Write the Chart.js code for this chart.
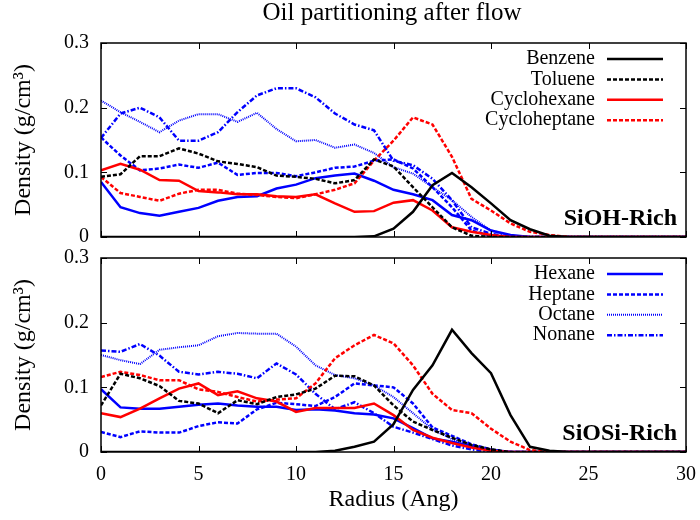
<!DOCTYPE html>
<html>
<head>
<meta charset="utf-8">
<script src="https://cdn.jsdelivr.net/npm/chart.js@4.4.1/dist/chart.umd.min.js"></script>
<style>
  body { margin: 0; background: #fff; }
  #top { position: absolute; left: 0; top: 0; }
  #bottom { position: absolute; left: 0; top: 234px; }
</style>
</head>
<body>
<canvas id="top" width="700" height="261"></canvas>
<canvas id="bottom" width="700" height="286"></canvas>
<script>
const radius = [0,1,2,3,4,5,6,7,8,9,10,11,12,13,14,15,16,17,18,19,20,21,22,23,24,25,26,27,28,29,30];
const seriesNames = ["Benzene", "Toluene", "Cyclohexane", "Cycloheptane", "Hexane", "Heptane", "Octane", "Nonane"];
const yTickLabels = ["0", "0.1", "0.2", "0.3"];
const xTickLabels = ["0", "5", "10", "15", "20", "25", "30"];

// SiOH-Rich panel
const benzeneTop = [0,0,0,0,0,0,0,0,0,0,0,0,0,0,0.001,0.013,0.039,0.08,0.099,0.077,0.052,0.026,0.012,0.002,0,0,0,0,0,0,0];
const tolueneTop = [0.093,0.097,0.125,0.125,0.137,0.129,0.117,0.113,0.108,0.095,0.093,0.09,0.083,0.088,0.12,0.109,0.077,0.046,0.015,0.002,0,0,0,0,0,0,0,0,0,0,0];
const cyclohexaneTop = [0.103,0.113,0.104,0.088,0.087,0.071,0.069,0.066,0.066,0.063,0.062,0.066,0.052,0.039,0.04,0.053,0.057,0.041,0.015,0.008,0.003,0,0,0,0,0,0,0,0,0,0];
const cycloheptaneTop = [0.093,0.068,0.062,0.056,0.067,0.073,0.073,0.067,0.065,0.062,0.06,0.066,0.073,0.083,0.118,0.149,0.185,0.174,0.124,0.059,0.041,0.021,0.008,0.003,0,0,0,0,0,0,0];
const hexaneTop = [0.085,0.046,0.037,0.033,0.039,0.045,0.056,0.062,0.063,0.075,0.081,0.091,0.095,0.098,0.087,0.073,0.066,0.057,0.034,0.026,0.01,0.003,0,0,0,0,0,0,0,0,0];
const heptaneTop = [0.154,0.126,0.103,0.106,0.112,0.107,0.115,0.096,0.099,0.099,0.094,0.1,0.107,0.109,0.118,0.12,0.106,0.077,0.046,0.01,0.002,0,0,0,0,0,0,0,0,0,0];
const octaneTop = [0.211,0.193,0.178,0.162,0.18,0.19,0.19,0.178,0.192,0.167,0.148,0.15,0.138,0.143,0.13,0.108,0.098,0.077,0.057,0.031,0.01,0.002,0,0,0,0,0,0,0,0,0];
const nonaneTop = [0.153,0.191,0.2,0.185,0.149,0.149,0.162,0.193,0.219,0.23,0.23,0.216,0.191,0.174,0.165,0.118,0.111,0.09,0.057,0.015,0.005,0,0,0,0,0,0,0,0,0,0];

// SiOSi-Rich panel
const benzeneBot = [0,0,0,0,0,0,0,0,0,0,0,0,0.002,0.008,0.016,0.043,0.096,0.134,0.189,0.153,0.122,0.057,0.008,0.002,0,0,0,0,0,0,0];
const tolueneBot = [0.072,0.121,0.114,0.102,0.079,0.075,0.06,0.08,0.074,0.085,0.089,0.098,0.118,0.117,0.103,0.072,0.047,0.034,0.022,0.011,0.004,0,0,0,0,0,0,0,0,0,0];
const cyclohexaneBot = [0.06,0.054,0.067,0.083,0.098,0.106,0.088,0.094,0.083,0.078,0.062,0.068,0.068,0.068,0.075,0.057,0.034,0.022,0.014,0.007,0.002,0,0,0,0,0,0,0,0,0,0];
const cycloheptaneBot = [0.116,0.124,0.119,0.111,0.111,0.097,0.093,0.085,0.078,0.081,0.083,0.106,0.145,0.165,0.181,0.168,0.134,0.09,0.065,0.06,0.036,0.016,0.003,0,0,0,0,0,0,0,0];
const hexaneBot = [0.097,0.069,0.067,0.067,0.07,0.073,0.075,0.072,0.07,0.07,0.065,0.066,0.064,0.06,0.058,0.052,0.037,0.021,0.016,0.009,0.003,0,0,0,0,0,0,0,0,0,0];
const heptaneBot = [0.031,0.023,0.032,0.03,0.03,0.04,0.046,0.044,0.066,0.076,0.074,0.071,0.085,0.106,0.103,0.1,0.075,0.038,0.025,0.012,0.004,0,0,0,0,0,0,0,0,0,0];
const octaneBot = [0.15,0.142,0.136,0.158,0.162,0.165,0.179,0.184,0.183,0.183,0.163,0.134,0.119,0.114,0.103,0.085,0.06,0.035,0.02,0.01,0.003,0,0,0,0,0,0,0,0,0,0];
const nonaneBot = [0.157,0.155,0.167,0.149,0.124,0.12,0.124,0.121,0.114,0.137,0.12,0.09,0.066,0.077,0.06,0.039,0.03,0.02,0.01,0.004,0,0,0,0,0,0,0,0,0,0,0];

const serif = '"Liberation Serif", "Times New Roman", serif';
Chart.defaults.font.family = serif;
Chart.defaults.color = '#000';

// line styles, one per series
const styles = [
    { color: '#000000', dash: [], width: 2.5 },
    { color: '#000000', dash: [4, 2], width: 2.5 },
    { color: '#ff0000', dash: [], width: 2.5 },
    { color: '#ff0000', dash: [4, 2], width: 2.5 },
    { color: '#0000ff', dash: [], width: 2.5 },
    { color: '#0000ff', dash: [4, 2], width: 2.5 },
    { color: '#0000ff', dash: [1, 1], width: 2 },
    { color: '#0000ff', dash: [5, 2, 1.5, 2], width: 2.5 }
];

function makeSets(panel) {
    return panel.map((vals, i) => ({
        label: seriesNames[i],
        data: vals.map((v, j) => ({ x: radius[j], y: v })),
        borderColor: styles[i].color,
        borderDash: styles[i].dash,
        borderWidth: styles[i].width,
        pointRadius: 0,
        fill: false,
        tension: 0
    }));
}

// frame with inward ticks, key inside the plot, panel tag
const framePlugin = {
    id: 'frame',
    afterDatasetsDraw(chart, args, opts) {
        const ctx = chart.ctx;
        const a = chart.chartArea;
        const xs = chart.scales.x, ys = chart.scales.y;
        ctx.save();
        ctx.setLineDash([]);
        ctx.strokeStyle = '#000';
        ctx.lineWidth = 1;
        ctx.beginPath();
        xs.ticks.forEach(t => {
            const px = Math.round(xs.getPixelForValue(t.value)) + 0.5;
            ctx.moveTo(px, a.bottom); ctx.lineTo(px, a.bottom - 6);
            ctx.moveTo(px, a.top); ctx.lineTo(px, a.top + 6);
        });
        ys.ticks.forEach(t => {
            const py = Math.round(ys.getPixelForValue(t.value)) + 0.5;
            ctx.moveTo(a.left, py); ctx.lineTo(a.left + 6, py);
            ctx.moveTo(a.right, py); ctx.lineTo(a.right - 6, py);
        });
        ctx.stroke();
        ctx.lineWidth = 1.5;
        ctx.strokeRect(a.left, a.top, a.right - a.left, a.bottom - a.top);

        if (opts.title) {
            ctx.font = '25px ' + serif;
            ctx.fillStyle = '#000';
            ctx.textAlign = 'center';
            ctx.textBaseline = 'alphabetic';
            ctx.fillText(opts.title, (a.left + a.right) / 2 - 1.5, 20);
        }

        ctx.font = '20px ' + serif;
        ctx.textAlign = 'right';
        ctx.textBaseline = 'middle';
        (opts.key || []).forEach((name, i) => {
            const ds = chart.data.datasets.find(d => d.label === name);
            const y = a.top + 16 + i * 20.4;
            ctx.fillStyle = '#000';
            ctx.fillText(name, a.right - 91, y);
            ctx.strokeStyle = ds.borderColor;
            ctx.lineWidth = ds.borderWidth;
            ctx.setLineDash(ds.borderDash);
            ctx.beginPath();
            ctx.moveTo(a.right - 79, y);
            ctx.lineTo(a.right - 23, y);
            ctx.stroke();
        });

        ctx.setLineDash([]);
        ctx.fillStyle = '#000';
        ctx.font = 'bold 24px ' + serif;
        ctx.textAlign = 'right';
        ctx.textBaseline = 'alphabetic';
        ctx.fillText(opts.tag, a.right - 9, a.bottom - 12.5);
        ctx.restore();
    }
};

function yScale() {
    return {
        min: 0,
        max: 0.3,
        ticks: { stepSize: 0.1, padding: 12, font: { size: 20 }, callback: (v, i) => yTickLabels[i] },
        grid: { display: false, drawTicks: false },
        border: { display: false },
        title: { display: true, text: 'Density (g/cm³)', font: { size: 24 }, padding: { top: 9, bottom: 0 } },
        afterFit: s => { s.width = 101; }
    };
}

new Chart(document.getElementById('top').getContext('2d'), {
    type: 'line',
    data: { datasets: makeSets([benzeneTop, tolueneTop, cyclohexaneTop, cycloheptaneTop, hexaneTop, heptaneTop, octaneTop, nonaneTop]) },
    options: {
        responsive: false,
        animation: false,
        layout: { padding: { left: 0, right: 14, top: 43, bottom: 0 } },
        plugins: {
            legend: { display: false },
            tooltip: { enabled: false },
            frame: { title: 'Oil partitioning after flow', key: seriesNames.slice(0, 4), tag: 'SiOH-Rich' }
        },
        scales: {
            x: {
                type: 'linear', min: 0, max: 30,
                ticks: { display: false, stepSize: 5 },
                grid: { display: false, drawTicks: false },
                border: { display: false },
                afterFit: s => { s.height = 24; s.paddingLeft = 0; s.paddingRight = 0; }
            },
            y: yScale()
        }
    },
    plugins: [framePlugin]
});

new Chart(document.getElementById('bottom').getContext('2d'), {
    type: 'line',
    data: { datasets: makeSets([benzeneBot, tolueneBot, cyclohexaneBot, cycloheptaneBot, hexaneBot, heptaneBot, octaneBot, nonaneBot]) },
    options: {
        responsive: false,
        animation: false,
        layout: { padding: { left: 0, right: 14, top: 24, bottom: 0 } },
        plugins: {
            legend: { display: false },
            tooltip: { enabled: false },
            frame: { key: seriesNames.slice(4), tag: 'SiOSi-Rich' }
        },
        scales: {
            x: {
                type: 'linear', min: 0, max: 30,
                ticks: { stepSize: 5, padding: 11, font: { size: 20 }, callback: (v, i) => xTickLabels[i] },
                grid: { display: false, drawTicks: false },
                border: { display: false },
                title: { display: true, text: 'Radius (Ang)', font: { size: 24 }, padding: { top: 0, bottom: 6 } },
                afterFit: s => { s.height = 68; s.paddingLeft = 0; s.paddingRight = 0; }
            },
            y: yScale()
        }
    },
    plugins: [framePlugin]
});
</script>
</body>
</html>
